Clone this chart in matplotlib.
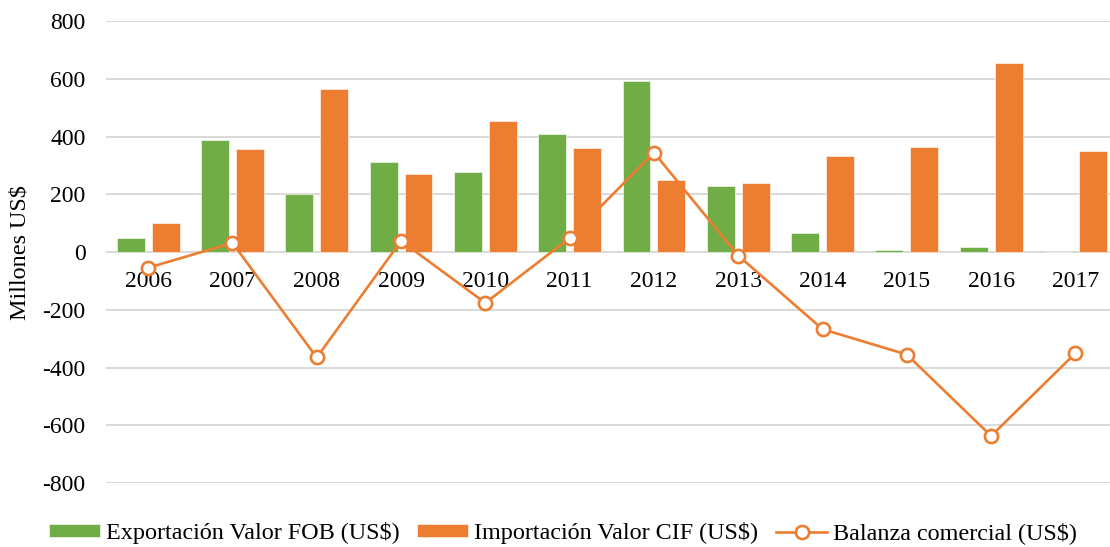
import matplotlib
matplotlib.use('Agg')
import matplotlib.pyplot as plt
import numpy as np

plt.rcParams['font.family'] = ['Liberation Serif', 'DejaVu Serif']

years = ['2006', '2007', '2008', '2009', '2010', '2011',
         '2012', '2013', '2014', '2015', '2016', '2017']
exportacion = [48, 388, 201, 311, 277, 411, 594, 229, 65, 8, 17, 0]
importacion = [102, 356, 566, 272, 453, 362, 249, 241, 332, 363, 654, 350]
balanza = [-54, 32, -365, 39, -176, 49, 345, -12, -267, -355, -637, -350]

labels = ['Exportación Valor FOB (US$)', 'Importación Valor CIF (US$)',
          'Balanza comercial (US$)']
yticks = [-800, -600, -400, -200, 0, 200, 400, 600, 800]

GREEN = '#70AD47'
ORANGE = '#ED7D31'
GRID = '#D9D9D9'
FS = 17.0
LFS = 17.4

W, H = 1110, 547
fig = plt.figure(figsize=(W / 100, H / 100), dpi=100)
ax = fig.add_axes([106 / W, 1 - 483 / H, 1011.6 / W, (483 - 21.3) / H])

x = np.arange(len(years))
bw = 0.33
off = 0.207
b1 = ax.bar(x - off, exportacion, bw, color=GREEN, edgecolor='white',
            linewidth=0.4, zorder=2, label=labels[0])
b2 = ax.bar(x + off, importacion, bw, color=ORANGE, edgecolor='white',
            linewidth=0.4, zorder=2, label=labels[1])
ln, = ax.plot(x, balanza, color=ORANGE, lw=1.9, marker='o', markersize=9.5,
              markerfacecolor='white', markeredgecolor=ORANGE,
              markeredgewidth=1.9, zorder=3, label=labels[2])

ax.set_xlim(-0.5, len(years) - 0.5)
ax.set_ylim(-800, 800)
ax.set_yticks(yticks)
ax.set_yticklabels([str(v) for v in yticks])
ax.set_xticks(x)
ax.set_xticklabels(years)
ax.yaxis.grid(True, color=GRID, lw=1.4, zorder=0)
ax.set_axisbelow(True)
for s in ['top', 'right', 'left']:
    ax.spines[s].set_visible(False)
ax.spines['bottom'].set_position(('data', 0))
ax.spines['bottom'].set_visible(False)
ax.tick_params(axis='y', length=0, pad=14.6, labelsize=FS, colors='black')
ax.tick_params(axis='x', length=0, pad=13.5, labelsize=FS, colors='black')

fig.text(20 / W, 1 - 253 / H, 'Millones US$', rotation=90, ha='center',
         va='center', fontsize=LFS)

fig.legend(handles=[b1, b2, ln], labels=labels, loc='center',
           bbox_to_anchor=(563 / W, 1 - 533 / H), ncol=3, frameon=False,
           fontsize=LFS, handlelength=2.1, handleheight=0.42,
           handletextpad=0.25, columnspacing=0.75, borderpad=0)

fig.savefig('out.png', dpi=100)
